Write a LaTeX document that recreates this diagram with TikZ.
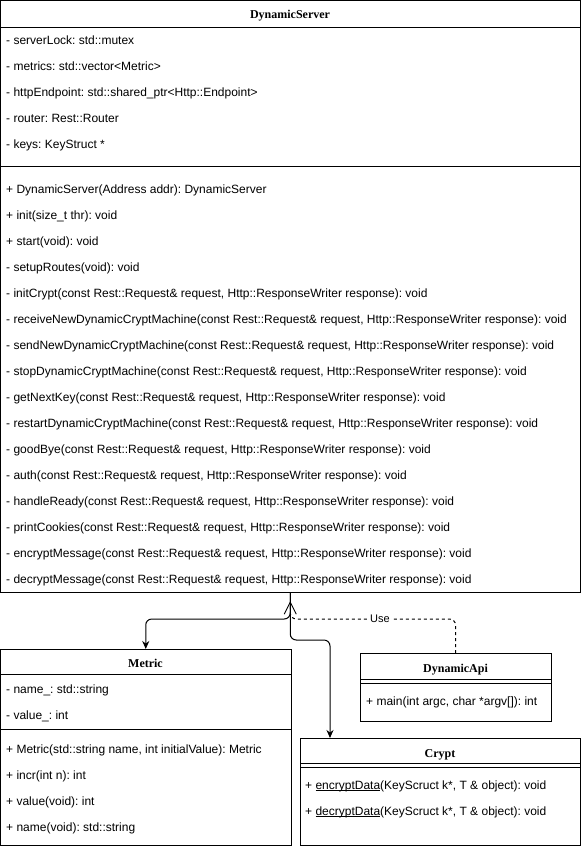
\documentclass[tikz,border=0pt]{standalone}
\usepackage{fontspec}
\setmainfont{Liberation Sans}
\newfontfamily\umltitlefont{Liberation Serif}
\usetikzlibrary{arrows.meta,calc}
\newcommand\myuline[1]{\setbox0\hbox{#1}\rlap{\rule[-1.3pt]{\wd0}{0.7pt}}\box0}
\begin{document}
\frenchspacing
\begin{tikzpicture}[x=1pt,y=-1pt,
  umlbox/.style={draw,line width=1pt,inner sep=0pt,outer sep=0pt,anchor=north west},
  sepline/.style={line width=1pt},
  mtext/.style={anchor=base west,inner sep=0pt,font=\fontsize{12}{14}\selectfont\frenchspacing},
  ttext/.style={anchor=base,inner sep=0pt,font=\umltitlefont\bfseries\fontsize{12}{14}\selectfont},
  conn/.style={line width=1pt,rounded corners=6pt},
  filledtip/.style={-{Stealth[length=8pt,width=7pt]}},
  opentip/.style={-{Straight Barb[length=12pt,width=12pt,line width=1pt]}},
  lbl/.style={fill=white,inner sep=1pt,font=\fontsize{11}{13}\selectfont}]
\useasboundingbox (0,0) rectangle (581,847);

% ---------------- DynamicServer
\node[umlbox,minimum width=579.5pt,minimum height=591.5pt] (ds) at (0.5,0.5) {};
\draw[sepline] ($(ds.north west)+(0,27)$) -- ($(ds.north east)+(0,27)$);
\draw[sepline] ($(ds.north west)+(0,166)$) -- ($(ds.north east)+(0,166)$);
\node[ttext] (dst) at (290,18) {DynamicServer};
\foreach \t [count=\i from 0] in {
  {- serverLock: std::mutex},
  {- metrics: std::vector<Metric>},
  {- httpEndpoint: std::shared\_ptr<Http::Endpoint>},
  {- router: Rest::Router},
  {- keys: KeyStruct *}}
  \node[mtext] (dsa\i) at (6,44.5+26*\i) {\t};
\foreach \t [count=\i from 0] in {
  {+ DynamicServer(Address addr): DynamicServer},
  {+ init(size\_t thr): void},
  {+ start(void): void},
  {- setupRoutes(void): void},
  {- initCrypt(const Rest::Request\& request, Http::ResponseWriter response): void},
  {- receiveNewDynamicCryptMachine(const Rest::Request\& request, Http::ResponseWriter response): void},
  {- sendNewDynamicCryptMachine(const Rest::Request\& request, Http::ResponseWriter response): void},
  {- stopDynamicCryptMachine(const Rest::Request\& request, Http::ResponseWriter response): void},
  {- getNextKey(const Rest::Request\& request, Http::ResponseWriter response): void},
  {- restartDynamicCryptMachine(const Rest::Request\& request, Http::ResponseWriter response): void},
  {- goodBye(const Rest::Request\& request, Http::ResponseWriter response): void},
  {- auth(const Rest::Request\& request, Http::ResponseWriter response): void},
  {- handleReady(const Rest::Request\& request, Http::ResponseWriter response): void},
  {- printCookies(const Rest::Request\& request, Http::ResponseWriter response): void},
  {- encryptMessage(const Rest::Request\& request, Http::ResponseWriter response): void},
  {- decryptMessage(const Rest::Request\& request, Http::ResponseWriter response): void}}
  \node[mtext] (dsm\i) at (6,193.5+26*\i) {\t};

% ---------------- Metric
\node[umlbox,minimum width=290.5pt,minimum height=196.5pt] (metric) at (0.5,649) {};
\draw[sepline] ($(metric.north west)+(0,25)$) -- ($(metric.north east)+(0,25)$);
\draw[sepline] ($(metric.north west)+(0,80.5)$) -- ($(metric.north east)+(0,80.5)$);
\node[ttext] (mt) at (145.5,667) {Metric};
\foreach \t [count=\i from 0] in {
  {- name\_: std::string},
  {- value\_: int}}
  \node[mtext] (ma\i) at (6,693.5+26*\i) {\t};
\foreach \t [count=\i from 0] in {
  {+ Metric(std::string name, int initialValue): Metric},
  {+ incr(int n): int},
  {+ value(void): int},
  {+ name(void): std::string}}
  \node[mtext] (mm\i) at (6,753.5+26*\i) {\t};

% ---------------- DynamicApi
\node[umlbox,minimum width=191pt,minimum height=68pt] (api) at (360,653) {};
\draw[sepline] ($(api.north west)+(0,26)$) -- ($(api.north east)+(0,26)$);
\draw[sepline] ($(api.north west)+(0,30)$) -- ($(api.north east)+(0,30)$);
\node[ttext] (apit) at (455.5,672) {DynamicApi};
\node[mtext] (apim) at (366,705.5) {+ main(int argc, char *argv[]): int};

% ---------------- Crypt
\node[umlbox,minimum width=280pt,minimum height=107.5pt] (crypt) at (300,738) {};
\draw[sepline] ($(crypt.north west)+(0,25.5)$) -- ($(crypt.north east)+(0,25.5)$);
\draw[sepline] ($(crypt.north west)+(0,29.5)$) -- ($(crypt.north east)+(0,29.5)$);
\node[ttext] (cryptt) at (440,757) {Crypt};
\node[mtext] (cm0) at (305,789.5) {+ \myuline{encryptData}(KeyScruct k*, T \& object): void};
\node[mtext] (cm1) at (305,815.5) {+ \myuline{decryptData}(KeyScruct k*, T \& object): void};

% ---------------- connectors
\draw[conn,filledtip] (ds.south) |- ($(metric.north)+(0,-30)$) -- (metric.north);
\coordinate (cryptin) at ($(crypt.north west)+(30,0)$);
\draw[conn,filledtip] (ds.south) -- ($(ds.south)+(0,48)$) -| (cryptin);
\draw[conn,dashed,opentip] (api.north) |- ($(ds.south)+(0,27)$) -- ($(ds.south)+(0,9)$);
\node[lbl] (uselbl) at (380,619) {Use};
\end{tikzpicture}
\end{document}
